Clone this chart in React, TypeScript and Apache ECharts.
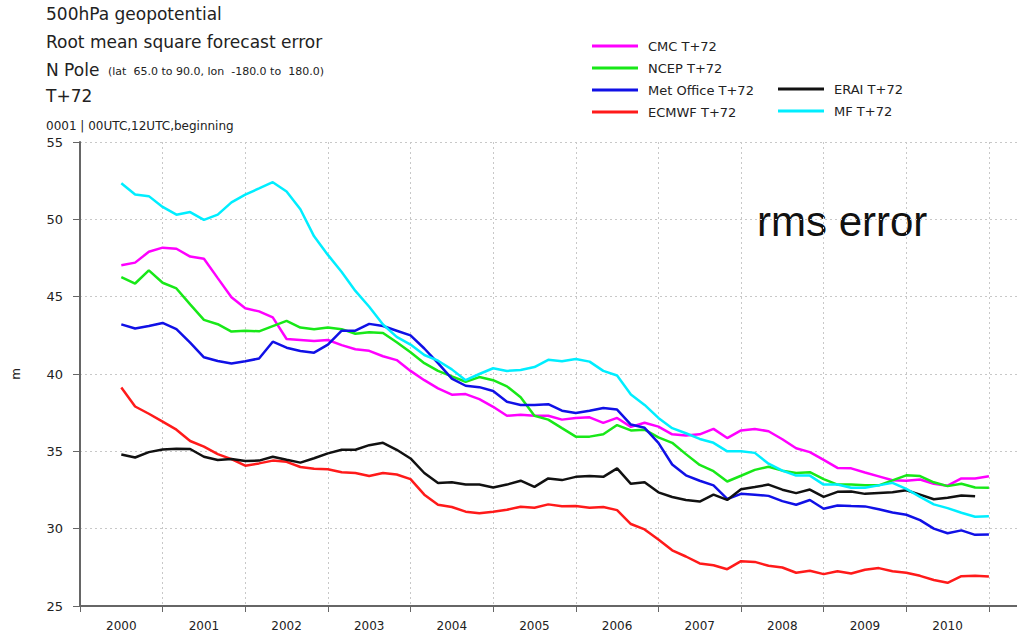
import React, { useEffect, useRef } from "react";
import * as echarts from "echarts";

// Decimal-year positions of the points (every two months, mid-2000 to end-2010)
const DATES = [
  2000.5, 2000.667, 2000.833, 2001.0, 2001.167, 2001.333, 2001.5, 2001.667, 2001.833,
  2002.0, 2002.167, 2002.333, 2002.5, 2002.667, 2002.833,
  2003.0, 2003.167, 2003.333, 2003.5, 2003.667, 2003.833,
  2004.0, 2004.167, 2004.333, 2004.5, 2004.667, 2004.833,
  2005.0, 2005.167, 2005.333, 2005.5, 2005.667, 2005.833,
  2006.0, 2006.167, 2006.333, 2006.5, 2006.667, 2006.833,
  2007.0, 2007.167, 2007.333, 2007.5, 2007.667, 2007.833,
  2008.0, 2008.167, 2008.333, 2008.5, 2008.667, 2008.833,
  2009.0, 2009.167, 2009.333, 2009.5, 2009.667, 2009.833,
  2010.0, 2010.167, 2010.333, 2010.5, 2010.667, 2010.833, 2011.0,
];

const YEAR_LABELS = ["2000", "2001", "2002", "2003", "2004", "2005", "2006", "2007", "2008", "2009", "2010"];
const YEAR_LABEL_POS = [2000.5, 2001.5, 2002.5, 2003.5, 2004.5, 2005.5, 2006.5, 2007.5, 2008.5, 2009.5, 2010.5];

const CMC = [
  47.03, 47.2, 47.9, 48.17, 48.1, 47.59, 47.45, 46.2, 44.96, 44.25,
  44.05, 43.66, 42.26, 42.2, 42.13, 42.2, 41.87, 41.6, 41.5, 41.15,
  40.9, 40.2, 39.6, 39.07, 38.66, 38.7, 38.38, 37.88, 37.3, 37.36,
  37.3, 37.3, 37.05, 37.16, 37.2, 36.84, 37.16, 36.58, 36.85, 36.6,
  36.1, 36.02, 36.1, 36.45, 35.86, 36.35, 36.45, 36.3, 35.78, 35.2,
  34.95, 34.45, 33.93, 33.9, 33.63, 33.38, 33.13, 33.1, 33.18, 32.9,
  32.78, 33.25, 33.25, 33.39,
];

const NCEP = [
  46.27, 45.85, 46.7, 45.9, 45.53, 44.5, 43.5, 43.22, 42.74, 42.8,
  42.76, 43.1, 43.43, 43.0, 42.9, 43.0, 42.9, 42.6, 42.7, 42.65,
  42.05, 41.4, 40.7, 40.2, 39.85, 39.5, 39.8, 39.6, 39.2, 38.5,
  37.3, 37.05, 36.5, 35.95, 35.95, 36.1, 36.7, 36.35, 36.4, 35.9,
  35.55, 34.82, 34.12, 33.72, 33.05, 33.42, 33.8, 34.0, 33.75, 33.6,
  33.65, 33.2, 32.85, 32.85, 32.8, 32.8, 33.12, 33.45, 33.4, 33.0,
  32.75, 32.9, 32.66, 32.64,
];

const MET_OFFICE = [
  43.21, 42.94, 43.1, 43.3, 42.9, 42.03, 41.08, 40.84, 40.68, 40.82,
  41.0, 42.09, 41.7, 41.49, 41.38, 41.9, 42.8, 42.8, 43.24, 43.1,
  42.8, 42.5, 41.65, 40.7, 39.7, 39.24, 39.15, 38.9, 38.2, 38.0,
  38.0, 38.05, 37.63, 37.48, 37.62, 37.8, 37.7, 36.73, 36.52, 35.55,
  34.15, 33.45, 33.1, 32.8, 31.92, 32.25, 32.2, 32.12, 31.78, 31.55,
  31.85, 31.29, 31.5, 31.46, 31.44, 31.26, 31.05, 30.9, 30.55, 30.0,
  29.7, 29.89, 29.6, 29.63,
];

const ECMWF = [
  39.12, 37.9, 37.43, 36.92, 36.4, 35.67, 35.3, 34.82, 34.5, 34.07,
  34.22, 34.4, 34.32, 33.99, 33.88, 33.84, 33.65, 33.6, 33.4, 33.6,
  33.5, 33.2, 32.2, 31.55, 31.4, 31.1, 31.0, 31.1, 31.22, 31.42,
  31.35, 31.57, 31.45, 31.46, 31.35, 31.4, 31.2, 30.3, 29.95, 29.3,
  28.6, 28.2, 27.75, 27.63, 27.38, 27.9, 27.85, 27.6, 27.49, 27.15,
  27.28, 27.06, 27.25, 27.1, 27.34, 27.45, 27.25, 27.15, 26.95, 26.68,
  26.5, 26.93, 26.95, 26.91,
];

const ERAI = [
  34.8, 34.6, 34.95, 35.12, 35.17, 35.15, 34.65, 34.44, 34.5, 34.37,
  34.4, 34.65, 34.45, 34.27, 34.55, 34.87, 35.1, 35.1, 35.4, 35.55,
  35.1, 34.54, 33.6, 32.95, 33.0, 32.85, 32.85, 32.66, 32.85, 33.1,
  32.7, 33.25, 33.14, 33.35, 33.4, 33.35, 33.9, 32.9, 33.0, 32.35,
  32.05, 31.85, 31.75, 32.2, 31.86, 32.55, 32.69, 32.85, 32.52, 32.3,
  32.53, 32.06, 32.38, 32.4, 32.25, 32.3, 32.35, 32.48, 32.2, 31.9,
  32.0, 32.15, 32.1, null,
];

const MF = [
  52.33, 51.6, 51.5, 50.8, 50.3, 50.47, 49.96, 50.3, 51.1, 51.6,
  52.0, 52.4, 51.8, 50.65, 48.9, 47.7, 46.6, 45.37, 44.35, 43.2,
  42.4, 41.9, 41.23, 40.86, 40.3, 39.6, 40.0, 40.37, 40.2, 40.26,
  40.45, 40.92, 40.82, 40.97, 40.8, 40.2, 39.9, 38.67, 38.0, 37.16,
  36.5, 36.17, 35.8, 35.55, 35.0, 35.0, 34.9, 34.2, 33.75, 33.43,
  33.43, 32.85, 32.85, 32.64, 32.64, 32.8, 32.96, 32.57, 32.06, 31.57,
  31.33, 31.03, 30.77, 30.8,
];

const SERIES_NAMES = ["CMC T+72", "NCEP T+72", "Met Office T+72", "ECMWF T+72", "ERAI T+72", "MF T+72"];
const SERIES_VALUES = [CMC, NCEP, MET_OFFICE, ECMWF, ERAI, MF];
const SERIES_COLORS = ["#ff00ff", "#18e818", "#1010e6", "#ff1a1a", "#111111", "#00eeff"];

const Y_TICKS = { min: 25, max: 55, step: 5 };

const TITLE_LINES = ["500hPa geopotential", "Root mean square forecast error", "N Pole", "T+72"];
const REGION_TEXT = "(lat  65.0 to 90.0, lon  -180.0 to  180.0)";
const SUBTITLE = "0001 | 00UTC,12UTC,beginning";
const ANNOTATION = "rms error";
const Y_NAME = "m";

export default function App() {
  const ref = useRef<HTMLDivElement>(null);

  useEffect(() => {
    if (!ref.current) return;
    const chart = echarts.init(ref.current, null, { renderer: "svg" });
    const font = "DejaVu Sans";
    const axisColor = "#666";

    const series = SERIES_NAMES.map((name, k) => ({
      name,
      type: "line",
      data: DATES.map((d, i) => [d, SERIES_VALUES[k][i]]),
      showSymbol: false,
      symbol: "none",
      lineStyle: { width: 2.5, color: SERIES_COLORS[k] },
      itemStyle: { color: SERIES_COLORS[k] },
      z: 2 + k,
    }));

    const legendCommon = {
      orient: "vertical",
      icon: "rect",
      itemWidth: 46,
      itemHeight: 3,
      itemGap: 8,
      padding: 0,
      selectedMode: false,
      textStyle: { fontFamily: font, fontSize: 13, color: "#222", lineHeight: 14, padding: [0, 0, 0, 5] },
    };

    const titleStyle = (text: string, x: number, y: number, size: number, color = "#222") => ({
      type: "text",
      x,
      y,
      style: { text, fontFamily: font, fontSize: size, fill: color, verticalAlign: "middle", align: "left" },
    });

    chart.setOption({
      animation: false,
      backgroundColor: "#ffffff",
      textStyle: { fontFamily: font },
      grid: { left: 80, right: 0, top: 142, bottom: 29, containLabel: false },
      legend: [
        { ...legendCommon, data: SERIES_NAMES.slice(0, 4), left: 592, top: 39 },
        { ...legendCommon, data: SERIES_NAMES.slice(4), left: 778, top: 82 },
      ],
      xAxis: {
        type: "value",
        min: 2000,
        max: 2011.34,
        interval: 1,
        axisLine: { show: true, lineStyle: { color: axisColor, width: 2 } },
        axisTick: { show: true, length: 6, lineStyle: { color: axisColor, width: 1 } },
        splitLine: { show: true, lineStyle: { color: "#c8c8c8", type: [2, 3], width: 1 } },
        axisLabel: {
          customValues: YEAR_LABEL_POS,
          formatter: (v: number) => YEAR_LABELS[Math.round(v - 0.5) - 2000] ?? "",
          fontFamily: font,
          fontSize: 12,
          color: "#222",
          margin: 14,
        },
      },
      yAxis: {
        type: "value",
        min: Y_TICKS.min,
        max: Y_TICKS.max,
        interval: Y_TICKS.step,
        name: Y_NAME,
        nameLocation: "middle",
        nameGap: 58,
        nameRotate: 90,
        nameTextStyle: { fontFamily: font, fontSize: 12, color: "#222" },
        axisLine: { show: true, lineStyle: { color: axisColor, width: 2 } },
        axisTick: { show: true, length: 7, lineStyle: { color: axisColor, width: 1 } },
        splitLine: { show: true, lineStyle: { color: "#c8c8c8", type: [2, 3], width: 1 } },
        axisLabel: { fontFamily: font, fontSize: 13, color: "#222", margin: 17 },
      },
      graphic: [
        titleStyle(TITLE_LINES[0], 46, 13.5, 17),
        titleStyle(TITLE_LINES[1], 46, 42, 17),
        titleStyle(TITLE_LINES[2], 46, 69.5, 17),
        titleStyle(REGION_TEXT, 108, 71, 11),
        titleStyle(TITLE_LINES[3], 46, 96, 17),
        titleStyle(SUBTITLE, 46, 126, 12),
        {
          type: "text",
          x: 757,
          y: 221,
          style: {
            text: ANNOTATION,
            fontFamily: "Liberation Sans",
            fontSize: 42,
            fill: "#111",
            verticalAlign: "middle",
            align: "left",
          },
        },
      ],
      series,
    });

    return () => chart.dispose();
  }, []);

  return (
    <div
      ref={ref}
      style={{ position: "fixed", left: 0, top: 0, width: 1017, height: 635, background: "#fff" }}
    />
  );
}
